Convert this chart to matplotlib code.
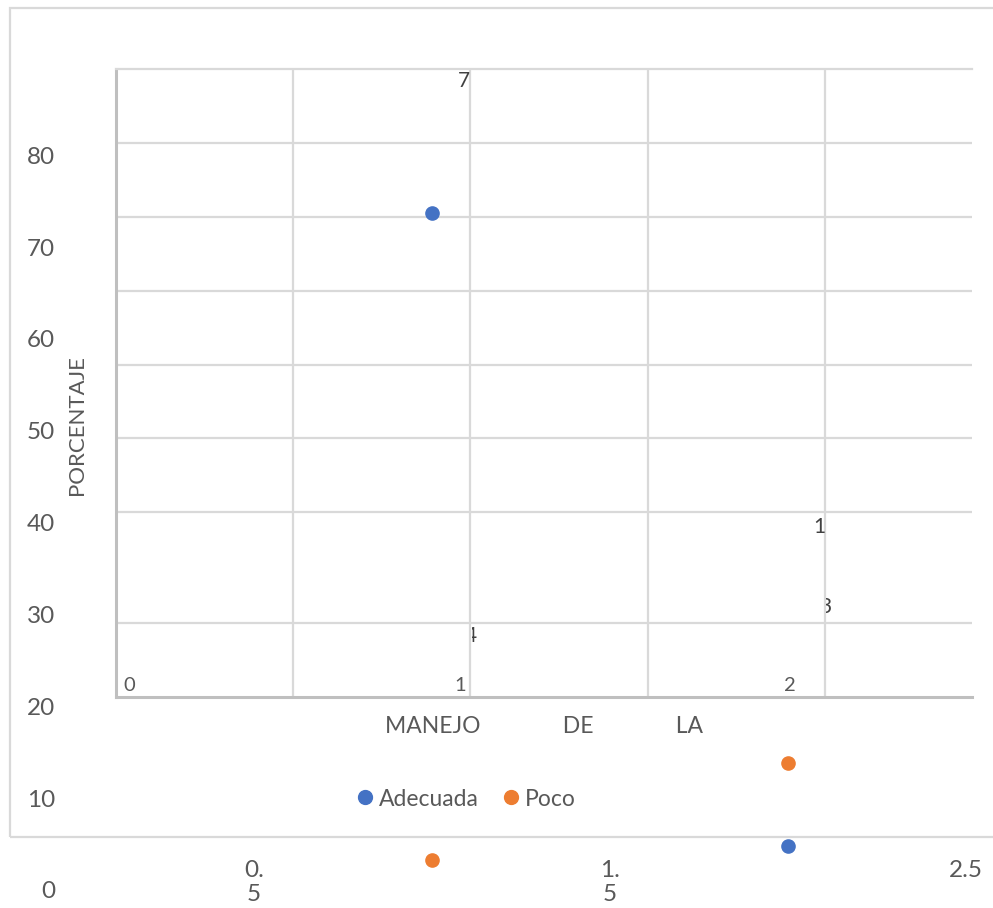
import matplotlib.pyplot as plt
from matplotlib.transforms import Bbox, TransformedBbox

plt.rcParams['font.family'] = ['Lato', 'DejaVu Sans']

# outer (broken) scale: two categories on x, percentage on y
categories = [1, 2]
adecuada = [73.7, 4.8]
poco = [3.3, 13.8]
series_names = ["Adecuada", "Poco"]
y_ticks = [0, 10, 20, 30, 40, 50, 60, 70, 80]
x_ticks = [0.5, 1.5, 2.5]
x_tick_labels = ["0.\n5", "1.\n5", "2.5"]

# inner plot area (the grid that got shifted)
inner_x_grid = [0.5, 1.0, 1.5, 2.0]
inner_y_grid = [10, 25, 35, 45, 55, 65, 75]
inner_axis_labels = ["0", "1", "2"]
inner_data_labels = ["7", "4", "1", "3"]

BLUE = "#4472C4"
ORANGE = "#ED7D31"
GRID = "#d9d9d9"
TXT = "#595959"

fig = plt.figure(figsize=(9.93, 9.08), dpi=100)
W, H = 993, 908

# outer chart frame (right edge runs off the picture)
frame = plt.Rectangle((10 / W, 1 - 837 / H), 1.2, (837 - 8) / H, transform=fig.transFigure,
                      fill=False, edgecolor=GRID, lw=1.6)
fig.patches.append(frame)

# inner grid axes
ax_in = fig.add_axes([116 / W, 1 - 697 / H, (972 - 116) / W, (697 - 69) / H], zorder=1)
ax_in.set_xlim(0, 2.415)
ax_in.set_ylim(0, 85)
ax_in.set_xticks(inner_x_grid)
ax_in.set_yticks(inner_y_grid)
ax_in.tick_params(length=0, labelbottom=False, labelleft=False)
ax_in.grid(True, color=GRID, lw=1.6)
ax_in.spines["right"].set_visible(False)
ax_in.spines["top"].set_color(GRID)
ax_in.spines["top"].set_linewidth(1.6)
for s in ["left", "bottom"]:
    ax_in.spines[s].set_color("#bfbfbf")
    ax_in.spines[s].set_linewidth(2.2)
ax_in.set_facecolor("white")

# inner "axis" numbers
num_kw = dict(va="center", fontsize=14.5, color=TXT)
ax_in.text(0.02, 1.5, inner_axis_labels[0], ha="left", **num_kw)
ax_in.text(0.987, 1.5, inner_axis_labels[1], ha="right", **num_kw)
ax_in.text(1.90, 1.5, inner_axis_labels[2], ha="center", **num_kw)

# clipped data labels
lab_kw = dict(fontsize=15, color="#404040", va="center")
ax_in.text(1.0, 83.4, inner_data_labels[0], ha="right", **lab_kw)
ax_in.text(2.0, 23.0, inner_data_labels[2], ha="right", **lab_kw)
t4 = ax_in.text(1.0, 8.3, inner_data_labels[1], ha="center", **lab_kw)
t3 = ax_in.text(2.0, 12.2, inner_data_labels[3], ha="center", **lab_kw)
for t, x0 in [(t4, 1.0), (t3, 2.0)]:
    t.set_clip_box(TransformedBbox(Bbox([[x0 + 0.004, 0], [2.415, 85]]), ax_in.transData))
    t.set_clip_on(True)

ax_in.set_xlabel("MANEJO              DE              LA", fontsize=16.5, color=TXT,
                 labelpad=14)

# outer axes carrying the real data
ax = fig.add_axes([0, 0, 1, 1], zorder=2)
ax.patch.set_alpha(0)
ax.set_xlim(-76 / 356, (W - 76) / 356)
ax.set_ylim(-1.96, 96.89)
for s in ax.spines.values():
    s.set_visible(False)
ax.set_yticks(y_ticks)
ax.set_xticks(x_ticks)
ax.set_xticklabels(x_tick_labels)
ax.tick_params(axis="y", length=0, pad=-55 * 0.72, labelsize=17.5, labelcolor=TXT)
ax.tick_params(axis="x", length=0, pad=-48 * 0.72, labelsize=17.5, labelcolor=TXT)

h1, = ax.plot(categories, adecuada, "o", color=BLUE, ms=9.5, ls="none", label=series_names[0])
h2, = ax.plot(categories, poco, "o", color=ORANGE, ms=9.5, ls="none", label=series_names[1])

fig.text(77 / W, 1 - 425 / H, "PORCENTAJE", rotation=90, ha="center", va="center",
         fontsize=16, color=TXT)

leg = ax.legend(handles=[h1, h2], loc="center", bbox_to_anchor=(466 / W, 1 - 799 / H),
                bbox_transform=fig.transFigure, ncol=2, frameon=False, fontsize=16.5,
                handletextpad=0.2, columnspacing=1.0, handlelength=0.8, markerscale=1.05)
for t in leg.get_texts():
    t.set_color(TXT)

fig.savefig("out.png", dpi=100)
